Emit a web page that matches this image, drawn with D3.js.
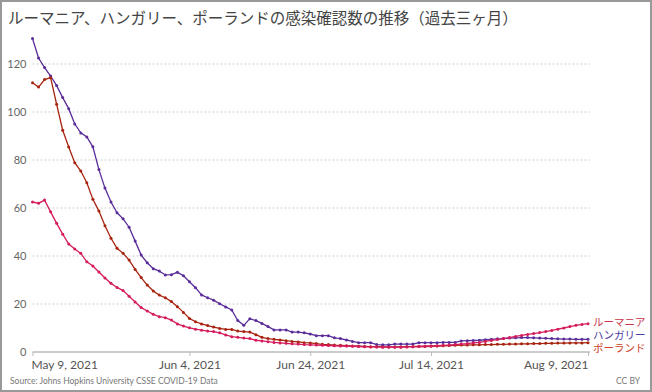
<!DOCTYPE html>
<html>
<head>
<meta charset="utf-8">
<script src="https://cdn.jsdelivr.net/npm/d3@7"></script>
<style>
  body { margin: 0; background: #fff; }
  svg { display: block; }
</style>
</head>
<body>
<svg width="652" height="392"></svg>
<script>
const svg = d3.select("svg");
const width = +svg.attr("width");
const height = +svg.attr("height");

const startDate = new Date(2021, 4, 9);
const tickDates = ["2021-05-09", "2021-06-04", "2021-06-24", "2021-07-14", "2021-08-09"];
const yTicks = [0, 20, 40, 60, 80, 100, 120];

const hungary = [130.6, 122.5, 118.5, 115.0, 111.0, 106.0, 101.4, 95.0, 91.3, 89.6,
  85.5, 76.0, 68.3, 62.5, 58.0, 55.5, 52.0, 46.2, 40.4, 37.2,
  34.7, 33.7, 32.1, 32.2, 33.2, 31.8, 29.3, 26.8, 23.8, 22.6,
  21.6, 20.1, 18.8, 17.5, 13.1, 11.1, 13.9, 13.1, 11.9, 10.6,
  9.2, 9.2, 9.2, 8.3, 8.3, 8.0, 7.5, 6.8, 6.8, 6.8,
  5.9, 5.6, 5.0, 4.4, 3.9, 3.9, 3.9, 3.1, 3.0, 3.0,
  3.3, 3.3, 3.3, 3.3, 3.9, 3.9, 3.9, 3.9, 4.0, 4.0,
  4.0, 4.6, 4.7, 4.8, 4.9, 5.1, 5.3, 5.5, 5.6, 5.8,
  5.9, 6.0, 6.0, 5.9, 5.8, 5.7, 5.6, 5.5, 5.4, 5.4,
  5.3, 5.3, 5.3];

const poland = [112.2, 110.4, 113.5, 114.3, 103.2, 92.4, 85.4, 78.9, 75.4, 70.5,
  63.6, 58.7, 52.6, 47.4, 43.2, 41.1, 38.3, 34.4, 31.0, 27.9,
  25.4, 23.7, 22.6, 21.0, 18.9, 16.5, 14.0, 12.6, 11.7, 11.0,
  10.4, 9.8, 9.4, 9.4, 8.7, 8.5, 8.3, 7.2, 6.1, 5.6,
  5.3, 5.0, 4.7, 4.4, 4.2, 3.9, 3.8, 3.5, 3.2, 3.1,
  2.9, 2.8, 2.6, 2.5, 2.4, 2.3, 2.2, 2.2, 2.1, 2.1,
  2.1, 2.1, 2.2, 2.2, 2.3, 2.3, 2.4, 2.5, 2.6, 2.7,
  2.8, 2.9, 2.9, 3.0, 3.0, 3.1, 3.1, 3.2, 3.2, 3.3,
  3.3, 3.4, 3.4, 3.5, 3.5, 3.6, 3.6, 3.7, 3.7, 3.8,
  3.8, 3.8, 3.9];

const romania = [62.5, 62.0, 63.3, 58.4, 53.6, 49.1, 45.0, 42.9, 41.1, 37.6,
  35.8, 33.3, 30.8, 28.6, 26.9, 25.6, 23.2, 20.8, 18.5, 17.1,
  15.7, 14.7, 14.3, 13.3, 11.7, 10.8, 10.1, 9.5, 9.1, 8.7,
  8.5, 8.0, 7.1, 6.4, 6.1, 5.8, 5.6, 4.9, 4.6, 4.3,
  4.0, 3.8, 3.6, 3.4, 3.3, 3.1, 3.0, 2.9, 2.8, 2.7,
  2.6, 2.5, 2.5, 2.4, 2.3, 2.2, 2.1, 2.1, 2.0, 2.0,
  2.0, 2.0, 2.1, 2.2, 2.3, 2.4, 2.5, 2.6, 2.8, 2.9,
  3.1, 3.3, 3.5, 3.8, 4.0, 4.4, 4.8, 5.2, 5.6, 6.0,
  6.5, 6.9, 7.3, 7.7, 8.1, 8.5, 9.0, 9.5, 10.0, 10.6,
  11.1, 11.5, 11.8];

const seriesNames = ["ルーマニア", "ハンガリー", "ポーランド"];
const seriesValues = [romania, hungary, poland];
const lineColors = ["#d41c5c", "#5a2d99", "#a8230f"];
const labelColors = ["#c8324a", "#4b3c9c", "#cc4126"];

const plotLeft = 32.5;
const plotRight = 588;

// frame
svg.append("rect")
  .attr("x", 1).attr("y", 1)
  .attr("width", width - 2).attr("height", height - 2)
  .attr("fill", "none")
  .attr("stroke", "#999")
  .attr("stroke-width", 2);

svg.append("text")
  .attr("x", 8).attr("y", 24)
  .attr("fill", "#444")
  .attr("font-family", "'Noto Sans CJK JP', sans-serif")
  .attr("font-size", 15.5)
  .text("ルーマニア、ハンガリー、ポーランドの感染確認数の推移（過去三ヶ月）");

const parse = d3.timeParse("%Y-%m-%d");
const dayOf = (i) => d3.timeDay.offset(startDate, i);

const xScale = d3.scaleTime()
  .domain([startDate, dayOf(92)])
  .range([plotLeft, plotRight]);

const yScale = d3.scaleLinear()
  .domain([0, 120])
  .range([352, 64]);

// grid
svg.append("g")
  .selectAll("line")
  .data(yTicks.filter((d) => d > 0))
  .enter()
  .append("line")
  .attr("x1", plotLeft)
  .attr("x2", plotRight + 2)
  .attr("y1", (d) => yScale(d))
  .attr("y2", (d) => yScale(d))
  .attr("stroke", "#ccc")
  .attr("stroke-width", 1)
  .attr("stroke-dasharray", "2,2");

const yAxis = d3.axisLeft(yScale).tickValues(yTicks).tickSize(0).tickPadding(5);
const yAxisG = svg.append("g")
  .attr("transform", `translate(${plotLeft - 1}, 0)`)
  .call(yAxis);
yAxisG.select(".domain").remove();
yAxisG.selectAll("text")
  .attr("fill", "#666")
  .attr("font-family", "Lato, sans-serif")
  .attr("font-size", 11);

const xAxis = d3.axisBottom(xScale)
  .tickValues(tickDates.map(parse))
  .tickFormat(d3.timeFormat("%b %-d, %Y"))
  .tickSize(4)
  .tickPadding(4);
const xAxisG = svg.append("g")
  .attr("transform", `translate(0, ${yScale(0)})`)
  .call(xAxis);
xAxisG.select(".domain")
  .attr("stroke", "#ccc")
  .attr("stroke-width", 2)
  .attr("d", `M${plotLeft},0H${plotRight + 2}`);
xAxisG.selectAll(".tick line").attr("stroke", "#bbb");
xAxisG.selectAll("text")
  .attr("fill", "#555")
  .attr("font-family", "Lato, sans-serif")
  .attr("font-size", 12)
  .attr("dx", (d, i) => (i === 0 ? -1.5 : 0))
  .attr("text-anchor", (d, i) => (i === 0 ? "start" : i === tickDates.length - 1 ? "end" : "middle"));

// lines
const line = d3.line()
  .x((d, i) => xScale(dayOf(i)))
  .y((d) => yScale(d));

const order = [1, 2, 0];
order.forEach((k) => {
  const vals = seriesValues[k];
  const g = svg.append("g");
  g.append("path")
    .datum(vals)
    .attr("fill", "none")
    .attr("stroke", lineColors[k])
    .attr("stroke-width", 1.3)
    .attr("d", line);
  g.selectAll("circle")
    .data(vals)
    .enter()
    .append("circle")
    .attr("cx", (d, i) => xScale(dayOf(i)))
    .attr("cy", (d) => yScale(d))
    .attr("r", 1.5)
    .attr("fill", lineColors[k]);
});

// end labels
const labelY = [326, 339, 352];
seriesNames.forEach((name, k) => {
  svg.append("text")
    .attr("x", plotRight + 5)
    .attr("y", labelY[k])
    .attr("fill", labelColors[k])
    .attr("font-family", "'Noto Sans CJK JP', sans-serif")
    .attr("font-size", 10.5)
    .text(name);
});

svg.append("text")
  .attr("x", 10).attr("y", 384)
  .attr("fill", "#777")
  .attr("font-family", "Lato, sans-serif")
  .attr("font-size", 8.5)
  .text("Source: Johns Hopkins University CSSE COVID-19 Data");

svg.append("text")
  .attr("x", 640).attr("y", 384)
  .attr("text-anchor", "end")
  .attr("fill", "#777")
  .attr("font-family", "Lato, sans-serif")
  .attr("font-size", 8.5)
  .text("CC BY");
</script>
</body>
</html>
